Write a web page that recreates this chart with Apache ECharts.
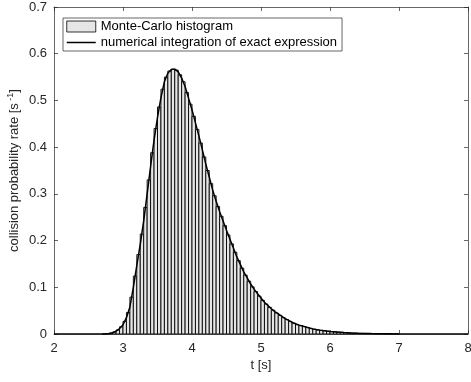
<!DOCTYPE html>
<html>
<head>
<meta charset="utf-8">
<script src="https://cdn.jsdelivr.net/npm/echarts@6/dist/echarts.min.js"></script>
<style>
  html, body { margin: 0; padding: 0; background: #fff; }
  #chart { width: 471px; height: 382px; }
</style>
</head>
<body>
<div id="chart"></div>
<script>
// Histogram of simulated collision times (bin width 0.05 s, first bin starts at 2.70 s)
const binStart = 2.70;
const binWidth = 0.05;
const histValues = [
  0.0001, 0.0006, 0.0018, 0.0043, 0.0085, 0.0155, 0.027, 0.046, 0.079, 0.124,
  0.170, 0.214, 0.271, 0.330, 0.388, 0.440, 0.486, 0.524, 0.550, 0.563,
  0.567, 0.565, 0.555, 0.540, 0.517, 0.492, 0.466, 0.438, 0.409, 0.379,
  0.350, 0.322, 0.296, 0.273, 0.252, 0.232, 0.212, 0.193, 0.175, 0.157,
  0.141, 0.126, 0.113, 0.101, 0.091, 0.081, 0.072, 0.064, 0.057, 0.051,
  0.045, 0.040, 0.035, 0.031, 0.027, 0.023, 0.020, 0.018, 0.016, 0.014,
  0.012, 0.010, 0.0089, 0.0078, 0.0068, 0.0060, 0.0052, 0.0046, 0.0040, 0.0035,
  0.0030, 0.0026, 0.0022, 0.0019, 0.0016, 0.0014, 0.0012, 0.0010, 0.0008, 0.0007,
  0.0006, 0.0005, 0.0004, 0.0003, 0.0003, 0.0002
];

// Exact expression, integrated numerically
const curveT = [
  2.00, 2.50, 2.70, 2.75, 2.80, 2.85, 2.90, 2.95, 3.00, 3.05, 3.10, 3.15, 3.20, 3.25,
  3.30, 3.35, 3.40, 3.45, 3.50, 3.55, 3.60, 3.65, 3.70, 3.75, 3.80, 3.85,
  3.90, 3.95, 4.00, 4.05, 4.10, 4.15, 4.20, 4.25, 4.30, 4.35, 4.40, 4.45,
  4.50, 4.55, 4.60, 4.65, 4.70, 4.75, 4.80, 4.85, 4.90, 4.95, 5.00, 5.05,
  5.10, 5.15, 5.20, 5.25, 5.30, 5.35, 5.40, 5.45, 5.50, 5.55, 5.60, 5.65,
  5.70, 5.75, 5.80, 5.85, 5.90, 5.95, 6.00, 6.10, 6.20, 6.30, 6.40, 6.50,
  6.60, 6.70, 6.80, 6.90, 7.00, 7.50, 8.00
];
const curveV = [
  0.0, 0.0, 0.0, 0.0003, 0.0010, 0.0028, 0.0060, 0.0115, 0.0200, 0.0350, 0.0580, 0.100, 0.147, 0.192,
  0.242, 0.300, 0.359, 0.415, 0.464, 0.506, 0.540, 0.558, 0.566, 0.567, 0.561, 0.548,
  0.530, 0.505, 0.480, 0.452, 0.424, 0.394, 0.364, 0.336, 0.308, 0.284, 0.262, 0.242,
  0.222, 0.203, 0.184, 0.165, 0.149, 0.133, 0.120, 0.107, 0.096, 0.086, 0.077, 0.068,
  0.061, 0.054, 0.048, 0.043, 0.038, 0.033, 0.029, 0.025, 0.022, 0.019, 0.017, 0.015,
  0.013, 0.011, 0.0095, 0.0083, 0.0073, 0.0064, 0.0056, 0.0043, 0.0032, 0.0024, 0.0018, 0.0013,
  0.0009, 0.0007, 0.0005, 0.0003, 0.0002, 0.0, 0.0
];

const xTicks = [2, 3, 4, 5, 6, 7, 8];
const yTicks = [0, 0.1, 0.2, 0.3, 0.4, 0.5, 0.6, 0.7];

const histData = histValues.map((v, i) => [binStart + (i + 0.5) * binWidth, v]);
const curveData = curveT.map((t, i) => [t, curveV[i]]);

const FONT = 'Liberation Sans, Arial, Helvetica, sans-serif';
const AXIS_COLOR = '#262626';
const TEXT_COLOR = '#262626';
const FS = 13;

const chart = echarts.init(document.getElementById('chart'), null, { renderer: 'canvas' });

const baseAxis = {
  type: 'value',
  axisLine: { show: true, onZero: false, lineStyle: { color: AXIS_COLOR, width: 0.7 } },
  axisTick: { show: true, inside: true, length: 4, lineStyle: { color: AXIS_COLOR, width: 0.7 } },
  splitLine: { show: false },
  axisLabel: { color: TEXT_COLOR, fontFamily: FONT, fontSize: FS }
};

chart.setOption({
  animation: false,
  backgroundColor: '#fff',
  grid: { left: 54, right: 3, top: 7, bottom: 48, containLabel: false, outerBoundsMode: 'none' },
  legend: {
    left: 63, top: 18,
    orient: 'vertical',
    padding: [2, 5, 2, 3],
    itemGap: 3,
    itemWidth: 29, itemHeight: 11,
    borderColor: '#262626', borderWidth: 0.7,
    backgroundColor: '#fff',
    textStyle: { color: '#000', fontFamily: FONT, fontSize: FS },
    data: [
      { name: 'Monte-Carlo histogram', icon: 'rect',
        itemStyle: { color: '#e6e6e6', borderColor: '#000', borderWidth: 0.8 } },
      { name: 'numerical integration of exact expression',
        itemStyle: { opacity: 0 },
        lineStyle: { color: '#000', width: 1.5 } }
    ]
  },
  xAxis: [
    Object.assign({}, baseAxis, {
      min: xTicks[0], max: xTicks[xTicks.length - 1], interval: 1,
      position: 'bottom',
      name: 't [s]', nameLocation: 'middle', nameGap: 25, nameMoveOverlap: false,
      nameTextStyle: { color: TEXT_COLOR, fontFamily: FONT, fontSize: FS },
      axisLabel: Object.assign({}, baseAxis.axisLabel, { margin: 8 })
    }),
    Object.assign({}, baseAxis, {
      min: xTicks[0], max: xTicks[xTicks.length - 1], interval: 1,
      position: 'top', axisLabel: { show: false }
    })
  ],
  yAxis: [
    Object.assign({}, baseAxis, {
      min: yTicks[0], max: yTicks[yTicks.length - 1], interval: 0.1,
      position: 'left',
      name: '{n|collision probability rate [s}{s| -1}{n|]}',
      nameLocation: 'middle', nameGap: 32, nameMoveOverlap: false,
      nameTextStyle: {
        rich: {
          n: { color: TEXT_COLOR, fontFamily: FONT, fontSize: FS },
          s: { color: TEXT_COLOR, fontFamily: FONT, fontSize: 9, verticalAlign: 'top', padding: [0, 0, 7, 0] }
        }
      },
      axisLabel: Object.assign({}, baseAxis.axisLabel, {
        margin: 7,
        formatter: v => (v === 0 ? '0' : v.toFixed(1))
      })
    }),
    Object.assign({}, baseAxis, {
      min: yTicks[0], max: yTicks[yTicks.length - 1], interval: 0.1,
      position: 'right', axisLabel: { show: false }
    })
  ],
  series: [
    {
      name: 'Monte-Carlo histogram',
      type: 'custom',
      xAxisIndex: 0, yAxisIndex: 0,
      itemStyle: { color: '#e6e6e6', borderColor: '#000', borderWidth: 0.9 },
      renderItem: function (params, api) {
        const x = api.value(0);
        const v = api.value(1);
        const p0 = api.coord([x - binWidth / 2, v]);
        const p1 = api.coord([x + binWidth / 2, 0]);
        return {
          type: 'rect',
          shape: { x: p0[0], y: p0[1], width: p1[0] - p0[0], height: p1[1] - p0[1] },
          style: { fill: '#e6e6e6', stroke: '#000', lineWidth: 0.9 }
        };
      },
      encode: { x: 0, y: 1 },
      data: histData,
      z: 2
    },
    {
      name: 'numerical integration of exact expression',
      type: 'line',
      xAxisIndex: 0, yAxisIndex: 0,
      symbol: 'none',
      smooth: false,
      lineStyle: { color: '#000', width: 1.5 },
      itemStyle: { color: '#000' },
      data: curveData,
      z: 3
    }
  ]
});
</script>
</body>
</html>
